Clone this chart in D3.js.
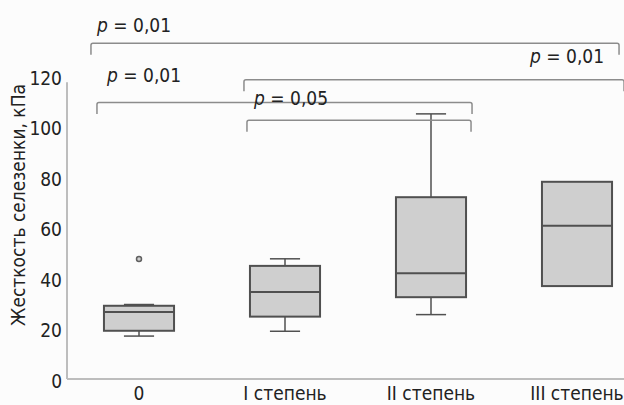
<!DOCTYPE html>
<html>
<head>
<meta charset="utf-8">
<script src="https://cdn.jsdelivr.net/npm/d3@7"></script>
<style>
  html, body { margin: 0; padding: 0; background: #fcfcfc; }
  svg { display: block; }
  text { font-family: "Liberation Sans Narrow", "DejaVu Sans Condensed", sans-serif; fill: #222; }
</style>
</head>
<body>
<svg id="chart" width="624" height="405"></svg>
<script>
// Spleen stiffness (kPa) by fibrosis stage
const categories = ["0", "I степень", "II степень", "III степень"];
const whiskerLow  = [17.0, 18.9, 25.5, null];
const q1          = [19.1, 24.7, 32.4, 36.8];
const median      = [26.5, 34.5, 41.9, 60.7];
const q3          = [29.0, 44.8, 72.0, 78.1];
const whiskerHigh = [29.5, 47.6, 105.0, null];
const outliers    = [[47.5], [], [], []];

const yTicks = [0, 20, 40, 60, 80, 100, 120];
const yTitle = "Жесткость селезенки, кПа";

// pairwise comparisons
const compFrom  = ["0", "I степень", "0", "I степень"];
const compTo    = ["III степень", "III степень", "II степень", "II степень"];
const compLevel = [133, 118.5, 109.5, 102.5];
const compP     = ["0,01", "0,01", "0,01", "0,05"];

const svg = d3.select("#chart");

const x = d3.scaleBand()
  .domain(categories)
  .range([66, 650])
  .paddingInner(0.52)
  .paddingOuter(0.26);

const y = d3.scaleLinear().domain([0, 120]).range([379, 76]);

// axes
const axisColor = "#bdbdbd";
svg.append("line")
  .attr("x1", 67).attr("x2", 624)
  .attr("y1", y(0)).attr("y2", y(0))
  .attr("stroke", axisColor).attr("stroke-width", 2);
svg.append("line")
  .attr("x1", 67).attr("x2", 67)
  .attr("y1", y(0)).attr("y2", y(117.5))
  .attr("stroke", axisColor).attr("stroke-width", 2);

const yAxis = d3.axisLeft(y).tickValues(yTicks).tickSize(0).tickPadding(0);
const gy = svg.append("g").attr("transform", "translate(62,2)").call(yAxis);
gy.select(".domain").remove();
gy.selectAll("text")
  .style("font-family", "'Liberation Sans Narrow', 'DejaVu Sans Condensed', sans-serif")
  .style("font-size", "19px").attr("fill", "#222");

const xAxis = d3.axisBottom(x).tickSize(0).tickPadding(0);
const gx = svg.append("g").attr("transform", `translate(0,${y(0) + 7})`).call(xAxis);
gx.select(".domain").remove();
gx.selectAll("text")
  .style("font-family", "'Liberation Sans Narrow', 'DejaVu Sans Condensed', sans-serif")
  .style("font-size", "19px").attr("fill", "#222");

svg.append("text")
  .attr("transform", `translate(25,${205}) rotate(-90)`)
  .attr("text-anchor", "middle")
  .style("font-size", "19px")
  .text(yTitle);

// boxes
const stroke = "#505050";
const bw = x.bandwidth();
categories.forEach((c, i) => {
  const x0 = x(c), cx = x0 + bw / 2;
  const g = svg.append("g");
  const capW = bw * 0.43;
  if (whiskerHigh[i] != null) {
    g.append("line").attr("x1", cx).attr("x2", cx)
      .attr("y1", y(q3[i])).attr("y2", y(whiskerHigh[i]))
      .attr("stroke", stroke).attr("stroke-width", 1.5);
    g.append("line").attr("x1", cx - capW / 2).attr("x2", cx + capW / 2)
      .attr("y1", y(whiskerHigh[i])).attr("y2", y(whiskerHigh[i]))
      .attr("stroke", stroke).attr("stroke-width", 1.5);
  }
  if (whiskerLow[i] != null) {
    g.append("line").attr("x1", cx).attr("x2", cx)
      .attr("y1", y(q1[i])).attr("y2", y(whiskerLow[i]))
      .attr("stroke", stroke).attr("stroke-width", 1.5);
    g.append("line").attr("x1", cx - capW / 2).attr("x2", cx + capW / 2)
      .attr("y1", y(whiskerLow[i])).attr("y2", y(whiskerLow[i]))
      .attr("stroke", stroke).attr("stroke-width", 1.5);
  }
  g.append("rect")
    .attr("x", x0).attr("width", bw)
    .attr("y", y(q3[i])).attr("height", y(q1[i]) - y(q3[i]))
    .attr("fill", "#cfcfcf").attr("stroke", stroke).attr("stroke-width", 2);
  g.append("line").attr("x1", x0).attr("x2", x0 + bw)
    .attr("y1", y(median[i])).attr("y2", y(median[i]))
    .attr("stroke", stroke).attr("stroke-width", 2);
  outliers[i].forEach(v => {
    g.append("circle").attr("cx", cx).attr("cy", y(v)).attr("r", 2.5)
      .attr("fill", "#cfcfcf").attr("stroke", "#606060").attr("stroke-width", 1.5);
  });
});

// significance brackets
const leftPad  = [-13, -6, -7, -3];
const rightPad = [7, 12, 6, 5];
const legLen = 11.5;
compFrom.forEach((f, i) => {
  const xl = x(f) + leftPad[i];
  const xr = x(compTo[i]) + bw + rightPad[i];
  const yy = y(compLevel[i]);
  const r = 2;
  svg.append("path")
    .attr("d", `M${xl},${yy + legLen} L${xl},${yy + r} Q${xl},${yy} ${xl + r},${yy}
                L${xr - r},${yy} Q${xr},${yy} ${xr},${yy + r} L${xr},${yy + legLen}`)
    .attr("fill", "none").attr("stroke", "#8c8c8c").attr("stroke-width", 1.5);
});

// p-value labels
const labelX = [97, 530, 107, 254];
const labelY = [32, 63, 82, 105];
compP.forEach((p, i) => {
  const t = svg.append("text")
    .attr("x", labelX[i]).attr("y", labelY[i])
    .style("font-size", "19px");
  t.append("tspan").style("font-style", "italic").text("p");
  t.append("tspan").text(" = " + p);
});
</script>
</body>
</html>
